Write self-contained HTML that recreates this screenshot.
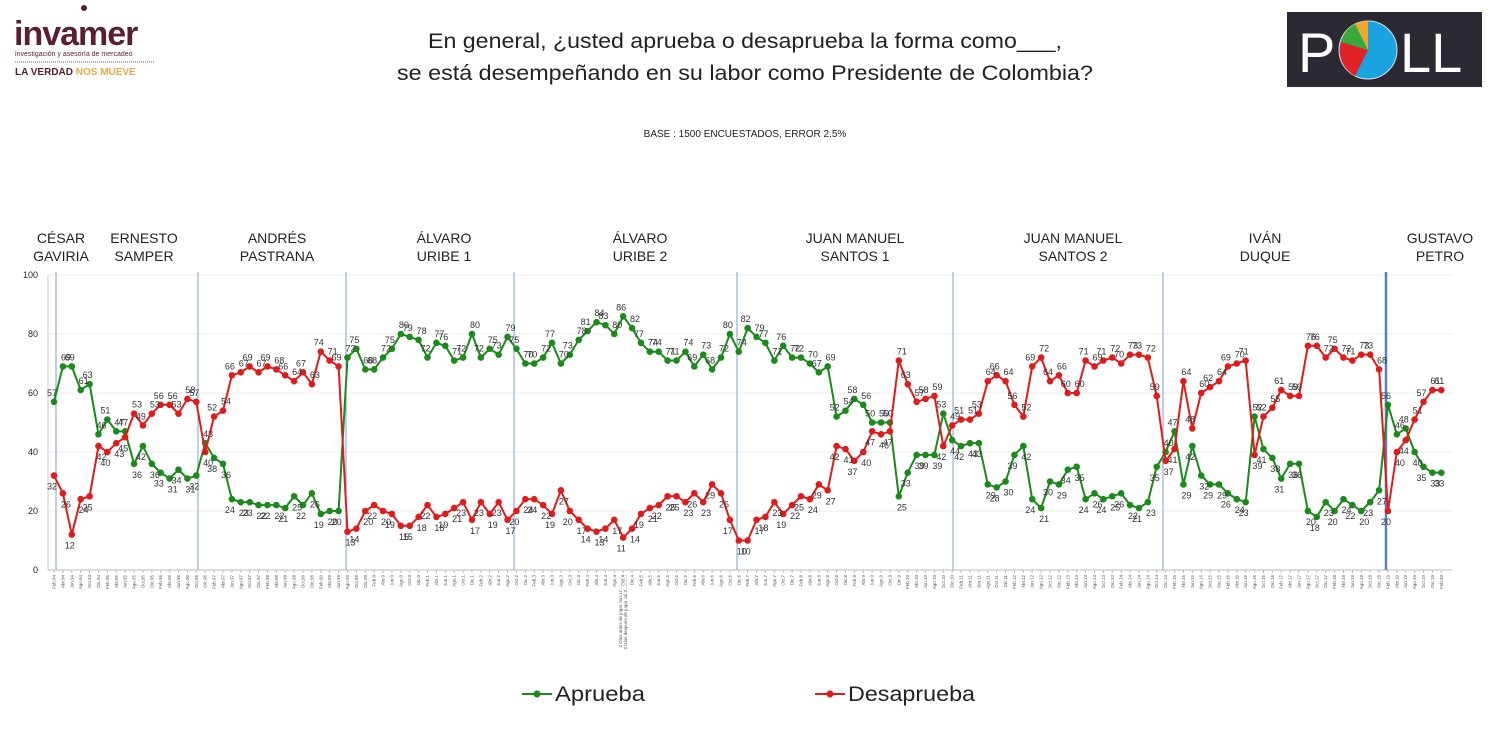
<!DOCTYPE html>
<html><head><meta charset="utf-8"><style>
body{margin:0;background:#fff;width:1492px;height:729px;overflow:hidden;font-family:"Liberation Sans",sans-serif}
</style></head><body>
<svg id="s" width="1492" height="729" xmlns="http://www.w3.org/2000/svg" style="position:absolute;left:0;top:0">
<!-- invamer logo -->
<text x="14" y="45" font-family="Liberation Sans" font-weight="bold" font-size="34" fill="#5a1e32" letter-spacing="-1">invamer</text>
<circle cx="84" cy="8" r="3" fill="#5a1e32"/>
<text x="15" y="56" font-size="7" fill="#5a1e32">investigación y asesoría de mercadeo</text>
<line x1="15" y1="62" x2="155" y2="62" stroke="#5a1e32" stroke-dasharray="1,1" stroke-width="0.8"/>
<text x="15" y="75" font-size="10" font-weight="bold" fill="#5a1e32">LA VERDAD <tspan fill="#e8a94a">NOS MUEVE</tspan></text>
<!-- POLL logo -->
<rect x="1287" y="12" width="195" height="75" fill="#2b2a33"/>
<text x="1298" y="72" font-size="56" fill="#fff" font-family="Liberation Sans">P</text>
<circle cx="1368" cy="50" r="29" fill="#1ba3e0" stroke="#ddd" stroke-width="1"/>
<path d="M1368,50 L1355,24 A29,29 0 0,0 1341,42 Z" fill="#3aa83a"/>
<path d="M1368,50 L1341,42 A29,29 0 0,0 1355,76 Z" fill="#e32228"/>
<path d="M1368,50 L1368,21 A29,29 0 0,0 1355,24 Z" fill="#f2a630"/>
<text x="1400" y="72" font-size="56" fill="#fff" font-family="Liberation Sans">LL</text>
<!-- titles -->
<text x="745" y="48" text-anchor="middle" font-size="21" fill="#222" textLength="634" lengthAdjust="spacingAndGlyphs">En general, ¿usted aprueba o desaprueba la forma como___,</text>
<text x="745" y="80" text-anchor="middle" font-size="21" fill="#222" textLength="696" lengthAdjust="spacingAndGlyphs">se está desempeñando en su labor como Presidente de Colombia?</text>
<text x="745" y="137" text-anchor="middle" font-size="10" fill="#222">BASE : 1500 ENCUESTADOS, ERROR 2.5%</text>
<g font-size="14" fill="#222" text-anchor="middle">
<text x="61" y="243">CÉSAR</text><text x="61" y="261">GAVIRIA</text>
<text x="144" y="243">ERNESTO</text><text x="144" y="261">SAMPER</text>
<text x="277" y="243">ANDRÉS</text><text x="277" y="261">PASTRANA</text>
<text x="444" y="243">ÁLVARO</text><text x="444" y="261">URIBE 1</text>
<text x="640" y="243">ÁLVARO</text><text x="640" y="261">URIBE 2</text>
<text x="855" y="243">JUAN MANUEL</text><text x="855" y="261">SANTOS 1</text>
<text x="1073" y="243">JUAN MANUEL</text><text x="1073" y="261">SANTOS 2</text>
<text x="1265" y="243">IVÁN</text><text x="1265" y="261">DUQUE</text>
<text x="1440" y="243">GUSTAVO</text><text x="1440" y="261">PETRO</text>
</g>
<g font-size="9" fill="#222" text-anchor="end">
<text x="38" y="278">100</text><text x="38" y="337">80</text><text x="38" y="396">60</text><text x="38" y="455">40</text><text x="38" y="514">20</text><text x="38" y="573">0</text>
</g>
<g id="grid"></g>
<g id="plot"></g>
<!-- legend -->
<line x1="522" y1="694" x2="552" y2="694" stroke="#1a8a1a" stroke-width="2"/><circle cx="537" cy="694" r="3.5" fill="#1a8a1a"/>
<text x="555" y="701" font-size="21" fill="#222" textLength="90" lengthAdjust="spacingAndGlyphs">Aprueba</text>
<line x1="815" y1="694" x2="845" y2="694" stroke="#e01b1b" stroke-width="2"/><circle cx="830" cy="694" r="3.5" fill="#e01b1b"/>
<text x="848" y="701" font-size="21" fill="#222" textLength="127" lengthAdjust="spacingAndGlyphs">Desaprueba</text>
</svg>
<script>
var G=[57,69,69,61,63,46,51,47,47,36,42,36,33,31,34,31,32,43,38,36,24,23,23,22,22,22,21,25,22,26,19,20,20,72,75,68,68,72,75,80,79,78,72,77,76,71,72,80,72,75,73,79,75,70,70,72,77,70,73,78,81,84,83,80,86,82,77,74,74,71,71,74,69,73,68,72,80,74,82,79,77,71,76,72,72,70,67,69,52,54,58,56,50,50,50,25,33,39,39,39,53,44,42,43,43,29,28,30,39,42,24,21,30,29,34,35,24,26,24,25,26,22,21,23,35,40,47,29,42,32,29,29,26,24,23,52,41,38,31,36,36,20,18,23,20,24,22,20,23,27,56,46,48,40,35,33,33];
var R=[32,26,12,24,25,42,40,43,45,53,49,53,56,56,53,58,57,40,52,54,66,67,69,67,69,68,66,64,67,63,74,71,69,13,14,20,22,20,19,15,15,18,22,18,19,21,23,17,23,19,23,17,20,24,24,22,19,27,20,17,14,13,14,17,11,14,19,21,22,25,25,23,26,23,29,26,17,10,10,17,18,23,19,22,25,24,29,27,42,41,37,40,47,46,47,71,63,57,58,59,42,49,51,51,53,64,66,64,56,52,69,72,64,66,60,60,71,69,71,72,70,73,73,72,59,37,41,64,48,60,62,64,69,70,71,39,52,55,61,59,59,76,76,72,75,72,71,73,73,68,20,40,44,51,57,61,61];
var NS="http://www.w3.org/2000/svg";
function el(p,t,a,txt){var e=document.createElementNS(NS,t);for(var k in a)e.setAttribute(k,a[k]);if(txt!=null)e.textContent=txt;p.appendChild(e);return e;}
var grid=document.getElementById('grid'),plot=document.getElementById('plot');
function X(i){return 54+i*8.893;}function Y(v){return 570-2.95*v;}
for(var v=0;v<=100;v+=20)el(grid,'line',{x1:48,x2:1452,y1:Y(v),y2:Y(v),stroke:v==0?'#bbb':'#eee','stroke-width':1});
el(grid,'line',{x1:48,x2:48,y1:Y(100),y2:Y(0),stroke:'#ccc'});
[56,198,346,514,737,953,1163].forEach(function(x){el(grid,'line',{x1:x,x2:x,y1:272,y2:570,stroke:'#7f9fc8','stroke-width':1});});
el(grid,'line',{x1:1386,x2:1386,y1:272,y2:570,stroke:'#5b7fbf','stroke-width':2.5});
var mon=['Feb','Abr','Jun','Ago','Oct','Dic'];
for(var i=0;i<G.length;i++){var x=X(i);el(grid,'line',{x1:x,x2:x,y1:570,y2:573,stroke:'#bbb'});
 el(grid,'text',{x:0,y:0,'font-size':4.5,fill:'#555','text-anchor':'end',transform:'translate('+(x+1.5)+',575) rotate(-90)'},mon[i%6]+'.'+(94+Math.floor(i/6))%100);}
el(grid,'text',{x:0,y:0,'font-size':4.5,fill:'#555','text-anchor':'end',transform:'translate('+(X(64)-1)+',575) rotate(-90)'},'2 Días antes de jugar Jun.17 ...........');
el(grid,'text',{x:0,y:0,'font-size':4.5,fill:'#555','text-anchor':'end',transform:'translate('+(X(64)+4)+',575) rotate(-90)'},'2 Días después de jugar Jul.3 ...........');
function series(D,O,c){var pts=D.map(function(v,i){return X(i).toFixed(1)+','+Y(v).toFixed(1)}).join(' ');
 el(plot,'polyline',{points:pts,fill:'none',stroke:c,'stroke-width':2});
 D.forEach(function(v,i){el(plot,'circle',{cx:X(i),cy:Y(v),r:3.3,fill:c});});
 D.forEach(function(v,i){var up=v>=O[i];el(plot,'text',{x:X(i)+(i%2?3:-2),y:Y(v)+(up?-6:14),'font-size':9,fill:'#333','text-anchor':'middle'},v);});}
series(G,R,'#1a8a1a');series(R,G,'#e01b1b');
</script>
</body></html>
